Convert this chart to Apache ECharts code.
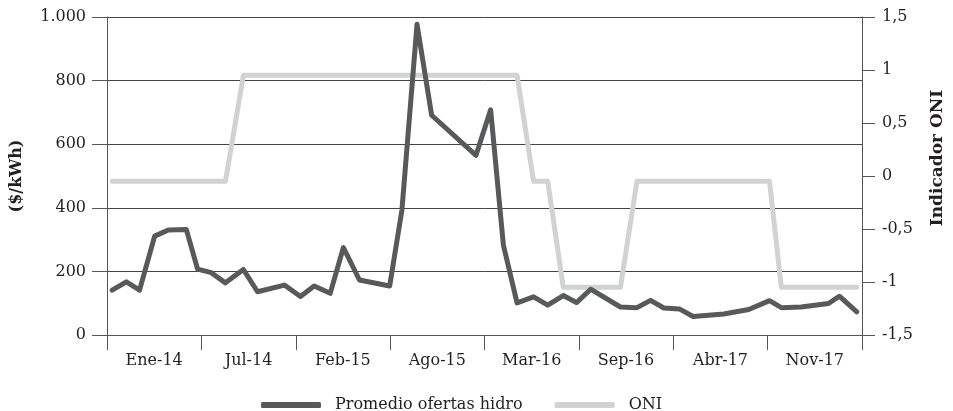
<!DOCTYPE html>
<html>
<head>
<meta charset="utf-8">
<script src="https://cdn.jsdelivr.net/npm/echarts@6/dist/echarts.min.js"></script>
<style>
  html, body { margin: 0; padding: 0; background: #fff; }
  #main { width: 953px; height: 411px; }
</style>
</head>
<body>
<div id="main"></div>
<script>
// etiquetas del eje x (centradas entre marcas)
const etiquetasX = ['Ene-14', 'Jul-14', 'Feb-15', 'Ago-15', 'Mar-16', 'Sep-16', 'Abr-17', 'Nov-17'];

// fechas de cada observación
const fechas = [
  '2014-01-12', '2014-02-11', '2014-03-11', '2014-04-12', '2014-05-11', '2014-06-18',
  '2014-07-12', '2014-08-10', '2014-09-09', '2014-10-17', '2014-11-16', '2015-01-12',
  '2015-02-15', '2015-03-16', '2015-04-19', '2015-05-17', '2015-06-20', '2015-08-23',
  '2015-09-18', '2015-10-20', '2015-11-20', '2016-02-22', '2016-03-24', '2016-04-20',
  '2016-05-19', '2016-06-23', '2016-07-23', '2016-08-25', '2016-09-22', '2016-10-22',
  '2016-12-24', '2017-01-28', '2017-02-26', '2017-03-26', '2017-04-28', '2017-05-27',
  '2017-07-31', '2017-09-22', '2017-11-05', '2017-11-30', '2018-01-11', '2018-03-10',
  '2018-04-02', '2018-05-09'
];

// Promedio ofertas hidro ($/kWh)
const ofertasHidro = [
  141, 167, 141, 311, 330, 332,
  207, 196, 164, 206, 136, 157,
  121, 154, 131, 275, 173, 154,
  393, 977, 691, 565, 708, 283,
  101, 120, 94, 124, 102, 144,
  88, 86, 109, 85, 82, 58,
  66, 80, 108, 86, 88, 99,
  122, 73
];

// Indicador ONI
const oni = [
  -0.05, -0.05, -0.05, -0.05, -0.05, -0.05,
  -0.05, -0.05, -0.05, 0.95, 0.95, 0.95,
  0.95, 0.95, 0.95, 0.95, 0.95, 0.95,
  0.95, 0.95, 0.95, 0.95, 0.95, 0.95,
  0.95, -0.05, -0.05, -1.05, -1.05, -1.05,
  -1.05, -0.05, -0.05, -0.05, -0.05, -0.05,
  -0.05, -0.05, -0.05, -1.05, -1.05, -1.05,
  -1.05, -1.05
];

const fuente = 'DejaVu Serif';
const colorTexto = '#231f20';
const colorEje = '#555';

const chart = echarts.init(document.getElementById('main'));

const option = {
  animation: false,
  backgroundColor: '#fff',
  grid: { left: 107, right: 91, top: 17, bottom: 76 },
  legend: {
    left: 256,
    top: 392,
    icon: 'roundRect',
    itemWidth: 60,
    itemHeight: 6,
    itemGap: 32,
    data: ['Promedio ofertas hidro', 'ONI'],
    textStyle: { fontFamily: fuente, fontSize: 16, color: colorTexto, padding: [0, 0, 0, 9] }
  },
  // título del eje derecho, algo por encima del centro como en el original
  graphic: [
    {
      type: 'text',
      x: 938,
      y: 158,
      rotation: Math.PI / 2,
      style: {
        text: 'Indicador ONI',
        fontFamily: fuente,
        fontSize: 17,
        fontWeight: 'bold',
        fill: colorTexto,
        align: 'center',
        verticalAlign: 'middle'
      }
    }
  ],
  xAxis: [
    {
      type: 'time',
      position: 'top',
      show: false,
      min: new Date(2014, 0, 1).getTime(),
      max: new Date(2018, 4, 20).getTime(),
      splitLine: { show: false }
    },
    {
      type: 'category',
      position: 'bottom',
      data: etiquetasX,
      boundaryGap: true,
      axisLine: { show: true, onZero: false, lineStyle: { color: colorEje, width: 1 } },
      axisTick: { show: true, length: 15, lineStyle: { color: colorEje } },
      axisLabel: { fontFamily: fuente, fontSize: 16, color: colorTexto, margin: 18 },
      splitLine: { show: false }
    }
  ],
  yAxis: [
    {
      type: 'value',
      min: 0,
      max: 1000,
      interval: 200,
      name: '($/kWh)',
      nameLocation: 'middle',
      nameRotate: 90,
      nameGap: 82,
      nameTextStyle: { fontFamily: fuente, fontSize: 16, fontWeight: 'bold', color: colorTexto },
      axisLine: { show: true, lineStyle: { color: colorEje } },
      axisTick: { show: true, length: 15, lineStyle: { color: colorEje } },
      axisLabel: {
        fontFamily: fuente, fontSize: 16, color: colorTexto, margin: 21,
        formatter: v => v >= 1000 ? '1.000' : String(v)
      },
      splitLine: { show: true, lineStyle: { color: '#444', width: 1 } }
    },
    {
      type: 'value',
      position: 'right',
      min: -1.5,
      max: 1.5,
      interval: 0.5,
      axisLine: { show: true, onZero: false, lineStyle: { color: colorEje } },
      axisTick: { show: true, length: 13, lineStyle: { color: colorEje } },
      axisLabel: {
        fontFamily: fuente, fontSize: 16, color: colorTexto, margin: 20,
        formatter: v => String(v).replace('.', ',')
      },
      splitLine: { show: false }
    }
  ],
  series: [
    {
      name: 'ONI',
      type: 'line',
      xAxisIndex: 0,
      yAxisIndex: 1,
      data: fechas.map((f, i) => [f, oni[i]]),
      showSymbol: false,
      symbol: 'none',
      z: 2,
      itemStyle: { color: '#d1d2d4' },
      lineStyle: { color: '#d1d2d4', width: 5, cap: 'round', join: 'round' }
    },
    {
      name: 'Promedio ofertas hidro',
      type: 'line',
      xAxisIndex: 0,
      yAxisIndex: 0,
      data: fechas.map((f, i) => [f, ofertasHidro[i]]),
      showSymbol: false,
      symbol: 'none',
      z: 3,
      itemStyle: { color: '#58595b' },
      lineStyle: { color: '#58595b', width: 5, cap: 'round', join: 'round' }
    }
  ]
};

chart.setOption(option);
</script>
</body>
</html>
